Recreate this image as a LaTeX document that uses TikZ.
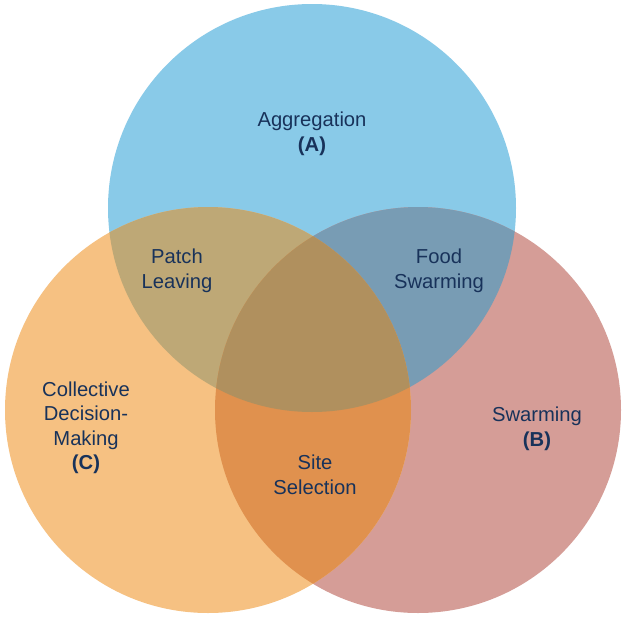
\documentclass[tikz,border=0pt]{standalone}
\usepackage{fontspec}
\setmainfont{Liberation Sans}
\definecolor{cA}{HTML}{89CAE8}
\definecolor{cB}{HTML}{D59D97}
\definecolor{cC}{HTML}{F6C182}
\definecolor{cAB}{HTML}{789CB4}
\definecolor{cAC}{HTML}{BEA876}
\definecolor{cBC}{HTML}{E0914E}
\definecolor{cABC}{HTML}{B0905E}
\definecolor{txt}{HTML}{18325A}
\begin{document}
\begin{tikzpicture}[x=1pt,y=-1pt,
  lbl/.style={text=txt,align=center,font=\fontsize{20.2}{24.5}\selectfont,inner sep=0pt}]
\useasboundingbox (0,0) rectangle (624,616);
\fill[white] (0,0) rectangle (624,616);
\def\circA{(312,208) circle[radius=204]}
\def\circB{(418,410) circle[radius=203]}
\def\circC{(208,410) circle[radius=203]}
\fill[cA] \circA;
\fill[cB] \circB;
\fill[cC] \circC;
\begin{scope}\clip \circA; \fill[cAB] \circB; \end{scope}
\begin{scope}\clip \circA; \fill[cAC] \circC; \end{scope}
\begin{scope}\clip \circB; \fill[cBC] \circC; \end{scope}
\begin{scope}\clip \circA; \clip \circB; \fill[cABC] \circC; \end{scope}
\node[lbl] (agg) at (312,134) {Aggregation\\\textbf{(A)}};
\node[lbl] (patch) at (177,271) {Patch\\Leaving};
\node[lbl] (food) at (439,271) {Food\\Swarming};
\node[lbl] (coll) at (86,428) {Collective\\Decision-\\Making\\\textbf{(C)}};
\node[lbl] (swarm) at (537,429) {Swarming\\\textbf{(B)}};
\node[lbl] (site) at (315,475) {Site\\Selection};
\end{tikzpicture}
\end{document}
